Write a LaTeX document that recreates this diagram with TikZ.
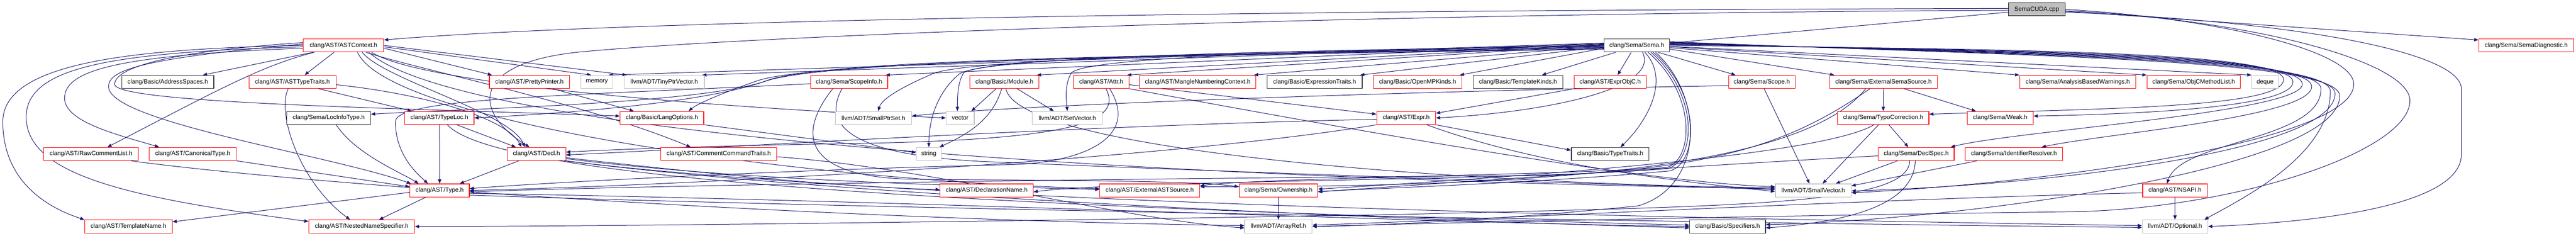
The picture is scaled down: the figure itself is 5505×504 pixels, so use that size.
\documentclass[tikz,border=0pt]{standalone}
\usepackage{fontspec}
\setmainfont{Liberation Sans}
\usetikzlibrary{arrows.meta}
\definecolor{edgec}{HTML}{191970}
\definecolor{gbord}{HTML}{BFBFBF}
\definecolor{cudafill}{HTML}{BFBFBF}
\pgfdeclarelayer{bg}
\pgfsetlayers{bg,main}
\tikzset{
 nd/.style={rectangle, fill=white, minimum height=28pt, inner sep=0pt, line width=1.3pt, font=\fontsize{13}{15}\selectfont},
 rd/.style={nd, draw=red},
 bk/.style={nd, draw=black!80},
 gy/.style={nd, draw=gbord},
 e/.style={draw=edgec, line width=1.1pt, -{Triangle[length=9pt,width=7pt]}},
}
\begin{document}
\begin{tikzpicture}[x=1pt,y=-1pt]
\useasboundingbox (0,0) rectangle (5505,504);
% row 0/1
\node[nd, draw=black, fill=cudafill, minimum width=121pt] (cuda) at (4352.5,20) {SemaCUDA.cpp};
\node[rd, minimum width=172pt] (astctx) at (734,97) {clang/AST/ASTContext.h};
\node[bk, minimum width=140pt] (sema) at (3498,97) {clang/Sema/Sema.h};
\node[rd, minimum width=203pt] (semadiag) at (5398.5,97) {clang/Sema/SemaDiagnostic.h};
% row 2
\node[bk, minimum width=197pt] (addrsp) at (358.5,175) {clang/Basic/AddressSpaces.h};
\node[rd, minimum width=186pt] (asttt) at (625,175) {clang/AST/ASTTypeTraits.h};
\node[rd, minimum width=171pt] (pretty) at (1131.5,175) {clang/AST/PrettyPrinter.h};
\node[gy, minimum width=69pt] (memory) at (1275.5,175) {memory};
\node[gy, minimum width=171pt] (tiny) at (1419.5,175) {llvm/ADT/TinyPtrVector.h};
\node[rd, minimum width=165pt] (scopeinfo) at (1814.5,175) {clang/Sema/ScopeInfo.h};
\node[rd, minimum width=147pt] (module) at (2146.5,175) {clang/Basic/Module.h};
\node[rd, minimum width=119pt] (attr) at (2353.5,175) {clang/AST/Attr.h};
\node[rd, minimum width=249pt] (mangle) at (2559.5,175) {clang/AST/MangleNumberingContext.h};
\node[bk, minimum width=203pt] (exprtr) at (2809.5,175) {clang/Basic/ExpressionTraits.h};
\node[rd, minimum width=189pt] (openmp) at (3029.5,175) {clang/Basic/OpenMPKinds.h};
\node[bk, minimum width=192pt] (tmplk) at (3244,175) {clang/Basic/TemplateKinds.h};
\node[rd, minimum width=154pt] (exprobjc) at (3441,175) {clang/AST/ExprObjC.h};
\node[rd, minimum width=142pt] (scope) at (3765,175) {clang/Sema/Scope.h};
\node[rd, minimum width=230pt] (extsema) at (4025,175) {clang/Sema/ExternalSemaSource.h};
\node[rd, minimum width=248pt] (abw) at (4440,175) {clang/Sema/AnalysisBasedWarnings.h};
\node[rd, minimum width=200pt] (objcml) at (4688,175) {clang/Sema/ObjCMethodList.h};
\node[gy, minimum width=57pt] (deque) at (4840.5,175) {deque};
% row 3
\node[bk, minimum width=179pt] (locinfo) at (702.5,252) {clang/Sema/LocInfoType.h};
\node[rd, minimum width=148pt] (typeloc) at (939,252) {clang/AST/TypeLoc.h};
\node[rd, minimum width=179pt] (langopt) at (1414.5,252) {clang/Basic/LangOptions.h};
\node[gy, minimum width=163pt] (smallptr) at (1866.5,252) {llvm/ADT/SmallPtrSet.h};
\node[gy, minimum width=60pt] (vector) at (2052,252) {vector};
\node[gy, minimum width=150pt] (setvec) at (2281,252) {llvm/ADT/SetVector.h};
\node[rd, minimum width=126pt] (expr) at (3005,252) {clang/AST/Expr.h};
\node[rd, minimum width=195pt] (typo) at (4024.5,252) {clang/Sema/TypoCorrection.h};
\node[rd, minimum width=141pt] (weak) at (4274.5,252) {clang/Sema/Weak.h};
% row 4
\node[rd, minimum width=203pt] (rawcl) at (194.5,329) {clang/AST/RawCommentList.h};
\node[rd, minimum width=186pt] (canon) at (412,329) {clang/AST/CanonicalType.h};
\node[rd, minimum width=125pt] (decl) at (1146.5,329) {clang/AST/Decl.h};
\node[rd, minimum width=248pt] (cct) at (1536,329) {clang/AST/CommentCommandTraits.h};
\node[gy, minimum width=54pt] (string) at (1985,329) {string};
\node[bk, minimum width=166pt] (typetr) at (3441,329) {clang/Basic/TypeTraits.h};
\node[rd, minimum width=162pt] (declspec) at (4095,329) {clang/Sema/DeclSpec.h};
\node[rd, minimum width=208pt] (idres) at (4304,329) {clang/Sema/IdentifierResolver.h};
% row 5
\node[rd, minimum width=127pt] (type) at (939.5,407) {clang/AST/Type.h};
\node[rd, minimum width=199pt] (declname) at (2108.5,407) {clang/AST/DeclarationName.h};
\node[rd, minimum width=214pt] (extast) at (2457,407) {clang/AST/ExternalASTSource.h};
\node[rd, minimum width=168pt] (ownership) at (2732,407) {clang/Sema/Ownership.h};
\node[gy, minimum width=162pt] (smallvec) at (3875,407) {llvm/ADT/SmallVector.h};
\node[rd, minimum width=138pt] (nsapi) at (4648,407) {clang/AST/NSAPI.h};
% row 6
\node[rd, minimum width=187pt] (tmplname) at (274.5,484) {clang/AST/TemplateName.h};
\node[rd, minimum width=226pt] (nns) at (773,484) {clang/AST/NestedNameSpecifier.h};
\node[gy, minimum width=144pt] (arrayref) at (2732,484) {llvm/ADT/ArrayRef.h};
\node[bk, minimum width=162pt] (specifiers) at (3692,484) {clang/Basic/Specifiers.h};
\node[gy, minimum width=140pt] (optional) at (4648,484) {llvm/ADT/Optional.h};

\begin{pgfonlayer}{bg}
% SemaCUDA.cpp
\draw[e] ([yshift=-6pt]cuda.west) -- ([yshift=5pt]sema.east);
\draw[e] ([yshift=2pt]cuda.west) .. controls (2600,22) and (1300,45) .. ([yshift=-3pt]astctx.north east);
\draw[e] ([yshift=-2pt]cuda.west) .. controls (3000,28) and (1700,70) .. (1250,110) .. controls (1000,132) and (1010,240) .. ([xshift=-15pt]decl.north);
\draw[e] ([yshift=-4pt]cuda.east) -- ([yshift=-3pt]semadiag.north west);
\draw[e] ([yshift=-6pt]cuda.east) .. controls (4900,45) and (5260,110) .. (5260,190) -- (5260,330) .. controls (5260,440) and (4950,475) .. (optional.east);
\draw[e] (cuda.east) .. controls (4750,40) and (5030,110) .. (5030,180) .. controls (5030,300) and (4400,390) .. ([yshift=-5pt]smallvec.east);
\draw[e] ([yshift=-3pt]cuda.east) .. controls (4800,40) and (5150,130) .. (5150,215) .. controls (5150,320) and (4800,440) .. (4450,452) .. controls (3700,462) and (3000,478) .. (arrayref.east);
% ASTContext.h
\draw[e] (astctx.west) .. controls (300,104) and (6,130) .. (6,260) .. controls (6,380) and (90,440) .. (tmplname.north west);
\draw[e] ([yshift=-3pt]astctx.west) .. controls (250,112) and (56,140) .. (56,250) .. controls (56,380) and (300,425) .. ([yshift=-4pt]nns.north west);
\draw[e] ([yshift=-6pt]astctx.west) .. controls (250,118) and (138,150) .. (138,210) .. controls (138,262) and (260,290) .. ([xshift=-72pt]canon.north);
\draw[e] ([yshift=3pt]astctx.west) .. controls (300,125) and (232,150) .. (232,185) .. controls (232,260) and (700,330) .. ([xshift=3pt]type.north west);
\draw[e] ([yshift=6pt]astctx.west) .. controls (330,112) and (245,150) .. (245,180) .. controls (245,222) and (900,232) .. ([yshift=4pt]langopt.west);
\draw[e] ([xshift=-65pt]astctx.south) -- ([xshift=75pt]addrsp.north);
\draw[e] ([xshift=-62pt]astctx.south) .. controls (560,140) and (470,190) .. ([xshift=35pt]rawcl.north);
\draw[e] ([xshift=-20pt]astctx.south) -- ([xshift=26pt]asttt.north);
\draw[e] ([yshift=-6pt]astctx.east) -- ([xshift=6pt]pretty.north west);
\draw[e] ([yshift=-3pt]astctx.east) -- ([xshift=-12pt]memory.north);
\draw[e] (astctx.east) -- ([xshift=6pt]tiny.north west);
\draw[e] ([xshift=40pt]astctx.south) .. controls (820,170) and (1090,240) .. ([xshift=-25pt]decl.north);
\draw[e] ([xshift=48pt]astctx.south) .. controls (900,150) and (1250,220) .. ([xshift=-60pt]cct.north);
\draw[e] ([xshift=60pt]astctx.south) .. controls (900,180) and (1500,228) .. (vector.west);
\draw[e] ([xshift=30pt]astctx.south) .. controls (830,260) and (1700,385) .. ([yshift=4pt]extast.west);
\draw[e] ([xshift=54pt]astctx.south) .. controls (1000,300) and (2600,385) .. ([yshift=4pt]smallvec.west);
% ASTTypeTraits.h
\draw[e] ([xshift=-9pt]asttt.south) .. controls (590,240) and (640,390) .. ([xshift=-25pt]nns.north);
\draw[e] ([xshift=56pt]asttt.south) -- ([xshift=-59pt]typeloc.north);
\draw[e] ([yshift=-6pt]asttt.east) .. controls (900,200) and (1080,250) .. ([xshift=-32pt]decl.north);
% misc
\draw[e] ([xshift=50pt]pretty.south) -- ([xshift=-60pt]langopt.north);
\draw[e] (langopt.south east) -- ([yshift=3pt]string.west);
\draw[e] ([xshift=16pt]locinfo.south) .. controls (760,330) and (860,370) .. ([xshift=-45pt]type.north);
\draw[e] (typeloc.south) -- (type.north);
\draw[e] ([xshift=37pt]typeloc.south) -- ([xshift=-44pt]decl.north);
\draw[e] ([xshift=17pt]typeloc.south) .. controls (1060,380) and (2000,440) .. ([yshift=3pt]specifiers.west);
\draw[e] ([xshift=85pt]rawcl.south) .. controls (700,400) and (1800,470) .. ([yshift=2pt]arrayref.west);
\draw[e] (canon.south east) -- ([yshift=8pt]type.west);
% Type.h
\draw[e] ([yshift=-4pt]type.west) -- ([yshift=10pt]tmplname.east);
\draw[e] ([xshift=-30pt]type.south) -- ([xshift=37pt]nns.north);
\draw[e] ([yshift=-6pt]type.east) .. controls (2000,430) and (3000,475) .. (specifiers.west);
\draw[e] ([yshift=-10pt]type.east) .. controls (2000,450) and (3800,478) .. ([yshift=-2pt]optional.west);
% Decl.h
\draw[e] ([xshift=-38pt]decl.south) -- ([xshift=43pt]type.north);
\draw[e] ([yshift=-8pt]decl.east) .. controls (1500,370) and (1800,400) .. ([yshift=2pt]declname.west);
\draw[e] ([yshift=-10pt]decl.east) .. controls (1600,388) and (2100,398) .. ([yshift=2pt]extast.west);
\draw[e] (decl.south east) .. controls (1800,420) and (3000,470) .. ([yshift=-3pt]specifiers.west);
\draw[e] ([xshift=-4pt]decl.south east) .. controls (2000,440) and (3800,470) .. ([yshift=2pt]optional.west);
\draw[e] ([yshift=-6pt]cct.east) .. controls (2000,360) and (2400,470) .. ([yshift=-3pt]arrayref.west);
% Module.h
\draw[e] ([xshift=-18pt]module.south) -- ([xshift=24pt]vector.north);
\draw[e] ([xshift=-6pt]module.south) .. controls (2120,260) and (2060,290) .. ([xshift=-5pt]string.north east);
\draw[e] ([xshift=27pt]module.south) -- ([xshift=-29pt]setvec.north);
\draw[e] ([xshift=3pt]module.south) .. controls (2180,330) and (3200,395) .. ([yshift=6pt]smallvec.west);
% Attr.h
\draw[e] ([xshift=10pt]attr.south) .. controls (2400,260) and (2300,300) .. (1800,307) .. controls (1500,312) and (1300,320) .. ([yshift=4pt]decl.east);
\draw[e] ([xshift=18pt]attr.south) .. controls (2440,300) and (2300,350) .. (2150,352) .. controls (1600,365) and (1100,395) .. ([yshift=4pt]type.east);
\draw[e] ([yshift=-6pt]attr.east) -- ([yshift=8pt]expr.west);
\draw[e] (attr.south east) .. controls (2800,260) and (3500,390) .. ([yshift=8pt]smallvec.west);
% ScopeInfo.h
\draw[e] ([yshift=-4pt]scopeinfo.west) .. controls (1200,205) and (845,210) .. (845,260) .. controls (845,330) and (890,370) .. ([xshift=-25pt]type.north);
\draw[e] ([xshift=-35pt]scopeinfo.south) .. controls (1700,290) and (1720,378) .. (1950,383) .. controls (2300,386) and (2550,386) .. ([yshift=8pt]ownership.west);
\draw[e] ([xshift=-15pt]scopeinfo.south) .. controls (1760,260) and (1800,330) .. (2100,345) .. controls (2800,375) and (3500,395) .. ([yshift=2pt]smallvec.west);
% Scope.h
\draw[e] ([xshift=5pt]scope.south) -- ([xshift=-8pt]smallvec.north);
\draw[e] ([yshift=-8pt]scope.west) .. controls (3000,195) and (2150,225) .. ([yshift=4pt]smallptr.east);
% Expr.h
\draw[e] (expr.south east) -- ([yshift=8pt]typetr.west);
\draw[e] ([yshift=-3pt]expr.west) .. controls (2300,268) and (1500,318) .. ([yshift=-2pt]decl.east);
\draw[e] (expr.south west) .. controls (2500,340) and (1500,395) .. (type.east);
\draw[e] ([xshift=44pt]expr.south) .. controls (3250,340) and (3500,380) .. ([yshift=-2pt]smallvec.west);
\draw[e] (exprobjc.south west) -- ([yshift=10pt]expr.east);
\draw[e] (ownership.south) -- (arrayref.north);
% ExternalSemaSource.h
\draw[e] (extsema.south) -- (typo.north);
\draw[e] ([xshift=44pt]extsema.south) -- ([xshift=-52pt]weak.north);
\draw[e] ([xshift=-38pt]extsema.south) .. controls (3850,360) and (3300,400) .. ([yshift=8pt]extast.east);
\draw[e] ([xshift=-29pt]extsema.south) .. controls (3850,290) and (3700,360) .. (3300,375) .. controls (2500,380) and (1400,395) .. ([yshift=-3pt]type.east);
% TypoCorrection.h
\draw[e] ([xshift=12pt]typo.south) -- ([xshift=-17pt]declspec.north);
\draw[e] ([xshift=-10pt]typo.south) -- ([xshift=20pt]smallvec.north);
\draw[e] ([xshift=-20pt]typo.south) .. controls (3900,330) and (3300,375) .. ([yshift=3pt]ownership.east);
% DeclSpec.h
\draw[e] ([xshift=-14pt]declspec.south) .. controls (4080,440) and (3700,440) .. (3000,458) .. controls (2000,476) and (1200,484) .. (nns.east);
\draw[e] ([xshift=-2pt]declspec.south) .. controls (4090,420) and (4000,470) .. ([yshift=-3pt]specifiers.east);
\draw[e] ([xshift=-40pt]declspec.south) -- ([xshift=48pt]smallvec.north);
\draw[e] ([yshift=-4pt]declspec.west) .. controls (3600,355) and (3100,390) .. ([yshift=-3pt]ownership.east);
\draw[e] ([xshift=-79pt]idres.south) -- ([yshift=10pt]smallvec.east);
% NSAPI.h
\draw[e] (nsapi.south) -- (optional.north);
\draw[e] ([yshift=-5pt]nsapi.west) .. controls (4000,425) and (3200,468) .. ([yshift=3pt]arrayref.east);
% Sema.h -> row 2 left
\draw[e] ([xshift=-12pt]sema.south) -- ([xshift=16pt]exprobjc.north);
\draw[e] ([xshift=-45pt]sema.south) -- ([xshift=51pt]tmplk.north);
\draw[e] ([yshift=-6pt]sema.west) -- ([xshift=-5pt]openmp.north east);
\draw[e] ([yshift=-3pt]sema.west) -- ([xshift=-5pt]exprtr.north east);
\draw[e] ([yshift=-1pt]sema.west) -- ([xshift=-5pt]mangle.north east);
\draw[e] ([yshift=1pt]sema.west) -- ([xshift=-5pt]attr.north east);
\draw[e] ([yshift=2pt]sema.west) -- ([xshift=-5pt]module.north east);
\draw[e] ([yshift=3pt]sema.west) -- ([xshift=-5pt]scopeinfo.north east);
\draw[e] ([yshift=4pt]sema.west) -- ([xshift=-5pt]tiny.north east);
\draw[e] ([yshift=5pt]sema.west) -- ([xshift=-10pt]memory.north east);
% Sema.h -> lower left
\draw[e] ([yshift=-8pt]sema.west) .. controls (2600,118) and (1800,125) .. (1640,172) .. controls (1500,222) and (1000,232) .. ([yshift=8pt]locinfo.east);
\draw[e] ([yshift=-7pt]sema.west) .. controls (2600,116) and (1800,123) .. (1645,170) .. controls (1500,225) and (1150,245) .. (typeloc.east);
\draw[e] ([yshift=-5pt]sema.west) .. controls (2600,114) and (1750,130) .. (1620,172) .. controls (1540,200) and (1490,222) .. ([xshift=57pt]langopt.north);
\draw[e] ([yshift=-4pt]sema.west) .. controls (2600,112) and (2060,128) .. (1992,158) .. controls (1930,185) and (1885,210) .. ([xshift=10pt]smallptr.north);
\draw[e] ([yshift=-2pt]sema.west) .. controls (2600,110) and (2110,125) .. (2060,155) .. controls (2046,175) and (2046,210) .. ([xshift=-6pt]vector.north);
\draw[e] ([yshift=-1pt]sema.west) .. controls (2600,110) and (2100,125) .. (2050,158) .. controls (2000,200) and (1985,260) .. (string.north);
\draw[e] (sema.west) .. controls (2700,110) and (2330,125) .. (2290,155) .. controls (2275,180) and (2278,210) .. (setvec.north);
\draw[e] ([xshift=12pt]sema.south) .. controls (3550,190) and (3300,240) .. (expr.east);
\draw[e] ([xshift=17pt]sema.south) .. controls (3570,170) and (3520,260) .. ([xshift=22pt]typetr.north);
\draw[e] ([xshift=30pt]sema.south) .. controls (3630,200) and (3625,340) .. (3565,360) .. controls (3300,385) and (2400,385) .. ([yshift=-3pt]declname.east);
\draw[e] ([xshift=24pt]sema.south) .. controls (3625,200) and (3620,340) .. (3562,358) .. controls (3300,375) and (2700,380) .. ([yshift=10pt]extast.east);
\draw[e] ([xshift=35pt]sema.south) .. controls (3635,200) and (3630,345) .. (3570,365) .. controls (3300,390) and (3000,400) .. ([yshift=-2pt]ownership.east);
\draw[e] ([xshift=40pt]sema.south) .. controls (3645,210) and (3640,400) .. (3500,440) .. controls (3200,470) and (2950,482) .. (arrayref.east);
% Sema.h -> right
\draw[e] ([xshift=45pt]sema.south) -- ([xshift=-56pt]scope.north);
\draw[e] ([yshift=-8pt]sema.east) -- ([xshift=-105pt]extsema.north);
\draw[e] ([yshift=-5pt]sema.east) -- (abw.north west);
\draw[e] ([yshift=-3pt]sema.east) -- (objcml.north west);
\draw[e] ([yshift=-2pt]sema.east) -- (deque.north west);
\draw[e] (sema.east) .. controls (4300,105) and (4880,110) .. (4880,170) .. controls (4880,230) and (4500,232) .. ([yshift=8pt]typo.east);
\draw[e] ([yshift=2pt]sema.east) .. controls (4300,108) and (4900,112) .. (4900,175) .. controls (4900,235) and (4500,245) .. ([yshift=4pt]weak.east);
\draw[e] ([yshift=3pt]sema.east) .. controls (4300,110) and (4920,114) .. (4920,180) .. controls (4920,240) and (4300,280) .. ([xshift=-8pt]declspec.north east);
\draw[e] ([yshift=4pt]sema.east) .. controls (4300,112) and (4940,116) .. (4940,185) .. controls (4940,250) and (4500,285) .. ([xshift=59pt]idres.north);
\draw[e] ([yshift=5pt]sema.east) .. controls (4300,114) and (4960,118) .. (4960,190) .. controls (4960,300) and (4660,300) .. ([xshift=-17pt]nsapi.north);
\draw[e] ([yshift=6pt]sema.east) .. controls (4300,116) and (4980,120) .. (4980,195) .. controls (4980,330) and (4800,420) .. ([xshift=-8pt]optional.north east);
\draw[e] ([yshift=7pt]sema.east) .. controls (4300,118) and (4990,122) .. (4990,200) .. controls (4990,320) and (4400,395) .. ([yshift=-1pt]smallvec.east);
\draw[e] ([yshift=8pt]sema.east) .. controls (4300,120) and (5000,124) .. (5000,205) .. controls (5000,360) and (4200,470) .. ([yshift=4pt]specifiers.east);
\end{pgfonlayer}
\end{tikzpicture}
\end{document}
